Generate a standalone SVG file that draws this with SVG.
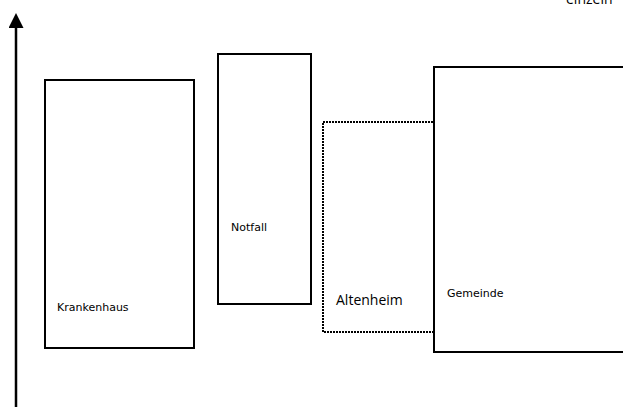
<svg xmlns="http://www.w3.org/2000/svg" width="623" height="407" viewBox="0 0 623 407">
  <style>
    .box { fill: #fff; stroke: #000; stroke-width: 2; }
    .dotted { fill: none; stroke: #000; stroke-width: 2; stroke-dasharray: 2 1; }
    .lbl { font-family: "DejaVu Sans", Verdana, sans-serif; font-size: 11px; fill: #000; }
    .lbl-lg { font-family: "Open Sans", "Liberation Sans", sans-serif; font-size: 14px; fill: #000; }
    .axis { stroke: #000; stroke-width: 2.5; fill: none; }
  </style>
  <defs>
    <marker id="arrow" markerWidth="6" markerHeight="6" refX="0" refY="3" orient="auto" markerUnits="strokeWidth">
      <path d="M0,0 L6,3 L0,6 Z" fill="#000"/>
    </marker>
  </defs>

  <text class="lbl-lg" x="566" y="4">einzeln</text>

  <g id="connectors">
    <line class="axis" x1="16" y1="407" x2="16" y2="28" marker-end="url(#arrow)"/>
  </g>

  <g id="krankenhaus">
    <rect class="box" x="45" y="80" width="149" height="268"/>
    <text class="lbl" x="57" y="311">Krankenhaus</text>
  </g>

  <g id="notfall">
    <rect class="box" x="218" y="54" width="93" height="250"/>
    <text class="lbl" x="231" y="231">Notfall</text>
  </g>

  <g id="altenheim">
    <rect class="dotted" x="323" y="122" width="111" height="210"/>
    <text class="lbl-lg" x="336" y="305">Altenheim</text>
  </g>

  <g id="gemeinde">
    <rect class="box" x="434" y="67" width="200" height="285"/>
    <text class="lbl" x="447" y="297">Gemeinde</text>
  </g>
</svg>
